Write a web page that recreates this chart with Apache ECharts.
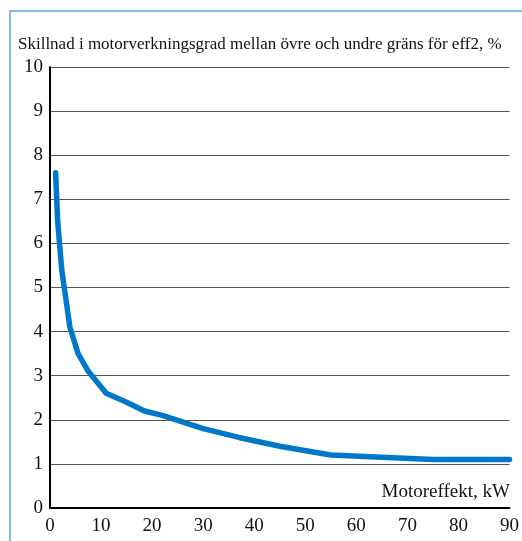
<!DOCTYPE html>
<html>
<head>
<meta charset="utf-8">
<script src="https://cdn.jsdelivr.net/npm/echarts@6/dist/echarts.min.js"></script>
<style>html,body{margin:0;padding:0;background:#fff}#c{width:522px;height:541px}</style>
</head>
<body>
<div id="c"></div>
<script>
const titleText = 'Skillnad i motorverkningsgrad mellan övre och undre gräns för eff2, %';
const xAxisLabel = 'Motoreffekt, kW';
const powerKW = [1.1, 1.5, 2.3, 3.9, 5.5, 7.5, 11, 15, 18.5, 22, 30, 37, 45, 55, 75, 90];
const diffPct = [7.6, 6.5, 5.4, 4.1, 3.5, 3.1, 2.6, 2.4, 2.2, 2.1, 1.8, 1.6, 1.4, 1.2, 1.1, 1.1];
const xTicks = [0, 10, 20, 30, 40, 50, 60, 70, 80, 90];
const yTicks = [0, 1, 2, 3, 4, 5, 6, 7, 8, 9, 10];

const font = '"Liberation Serif", "Times New Roman", serif';
const chart = echarts.init(document.getElementById('c'), null, {renderer: 'canvas'});
chart.setOption({
  animation: false,
  backgroundColor: '#fff',
  grid: {left: 50, right: 11, top: 67, bottom: 33, containLabel: false},
  xAxis: {
    type: 'value', min: xTicks[0], max: xTicks[xTicks.length - 1], interval: 10,
    axisLine: {show: true, lineStyle: {color: '#000', width: 2}},
    axisTick: {show: false},
    splitLine: {show: false},
    axisLabel: {color: '#111', fontFamily: font, fontSize: 19, margin: 9}
  },
  yAxis: {
    type: 'value', min: yTicks[0], max: yTicks[yTicks.length - 1], interval: 1,
    axisLine: {show: true, lineStyle: {color: '#000', width: 2}},
    axisTick: {show: false},
    splitLine: {show: true, lineStyle: {color: '#555', width: 1}},
    axisLabel: {color: '#111', fontFamily: font, fontSize: 19, margin: 7, padding: [4, 0, 0, 0]}
  },
  series: [{
    type: 'line',
    data: powerKW.map((x, i) => [x, diffPct[i]]),
    showSymbol: false,
    smooth: false,
    lineStyle: {color: '#0077c8', width: 5.5, cap: 'round', join: 'round'}
  }],
  graphic: [
    {type: 'rect', shape: {x: 10, y: 11, width: 700, height: 700},
     style: {fill: 'none', stroke: '#5aa3e0', lineWidth: 1.5}, silent: true},
    {type: 'text', left: 18, top: 36,
     style: {text: titleText, font: '17px ' + font, fill: '#111'}},
    {type: 'text', right: 12, top: 483,
     style: {text: xAxisLabel, font: '19px ' + font, fill: '#111'}}
  ]
});
</script>
</body>
</html>
